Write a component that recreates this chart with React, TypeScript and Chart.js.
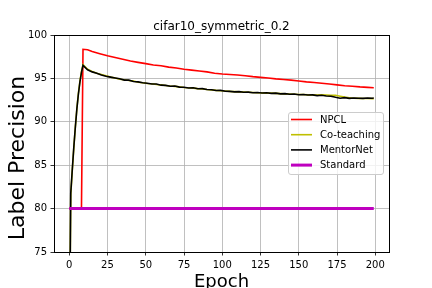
import React, { useEffect, useRef } from "react";
import { Chart, registerables } from "chart.js";

Chart.register(...registerables);

const TITLE = "cifar10_symmetric_0.2";
const X_LABEL = "Epoch";
const Y_LABEL = "Label Precision";
const X_TICKS = [0, 25, 50, 75, 100, 125, 150, 175, 200];
const Y_TICKS = [75, 80, 85, 90, 95, 100];

const NPCL_EPOCHS = [0, 8, 9, 12, 15, 20, 25, 30, 35, 40, 45, 50, 55, 60, 65, 70, 75, 80, 85, 90, 95, 100, 105, 110, 115, 120, 125, 130, 135, 140, 145, 150, 155, 160, 165, 170, 175, 180, 185, 190, 195, 199];
const NPCL_VALUES = [80, 80, 98.35, 98.3, 98.1, 97.85, 97.6, 97.4, 97.2, 97.0, 96.85, 96.7, 96.55, 96.45, 96.3, 96.2, 96.05, 95.95, 95.85, 95.75, 95.6, 95.5, 95.45, 95.4, 95.3, 95.2, 95.12, 95.05, 94.95, 94.87, 94.8, 94.7, 94.6, 94.52, 94.45, 94.35, 94.25, 94.15, 94.1, 94.02, 93.97, 93.93];

const BASE_EPOCHS = [0, 1, 2, 3, 4, 5, 6, 7, 8, 9, 12, 15, 18, 21, 24, 27, 30, 33, 36, 39, 42, 45, 48, 51, 54, 57, 60, 63, 66, 69, 72, 75, 78, 81, 84, 87, 90, 93, 96, 99, 102, 105, 108, 111, 114, 117, 120, 123, 126, 129, 132, 135, 138, 141, 144, 147, 150, 153, 156, 159, 162, 165, 168, 171, 174, 177, 180, 183, 186, 189, 192, 195, 198, 199];

const COTEACHING_VALUES = [60, 81.6, 84.4, 87.0, 89.4, 91.5, 93.3, 94.7, 95.8, 96.6, 96.05, 95.8, 95.6, 95.45, 95.3, 95.15, 95.05, 94.9, 94.85, 94.75, 94.7, 94.55, 94.5, 94.42, 94.38, 94.3, 94.25, 94.18, 94.12, 94.08, 94.02, 93.95, 93.92, 93.88, 93.82, 93.78, 93.72, 93.68, 93.62, 93.58, 93.55, 93.5, 93.48, 93.45, 93.42, 93.4, 93.38, 93.35, 93.33, 93.3, 93.3, 93.27, 93.25, 93.22, 93.2, 93.18, 93.15, 93.15, 93.1, 93.1, 93.08, 93.1, 93.08, 93.05, 93.05, 92.95, 92.85, 92.78, 92.72, 92.7, 92.68, 92.68, 92.67, 92.67];

const MENTORNET_VALUES = [60, 81.8, 84.5, 87.1, 89.4, 91.5, 93.2, 94.6, 95.7, 96.5, 96.0, 95.75, 95.6, 95.4, 95.25, 95.15, 95.05, 94.95, 94.8, 94.8, 94.65, 94.6, 94.5, 94.45, 94.35, 94.35, 94.22, 94.2, 94.1, 94.12, 94.0, 93.98, 93.9, 93.92, 93.8, 93.82, 93.72, 93.7, 93.6, 93.62, 93.52, 93.5, 93.45, 93.48, 93.4, 93.42, 93.35, 93.38, 93.32, 93.35, 93.28, 93.3, 93.22, 93.25, 93.18, 93.2, 93.12, 93.15, 93.08, 93.1, 93.02, 93.05, 92.98, 92.95, 92.82, 92.72, 92.78, 92.7, 92.75, 92.72, 92.7, 92.75, 92.72, 92.74];

const STANDARD_EPOCHS = [0, 50, 100, 150, 199];
const STANDARD_VALUES = [80, 80, 80, 80, 80];

const FONT = "'DejaVu Sans', sans-serif";

const pts = (xs: number[], ys: number[]) => xs.map((x, i) => ({ x, y: ys[i] }));

const series = [
  { label: "NPCL", color: "#ff0000", width: 1.6, data: pts(NPCL_EPOCHS, NPCL_VALUES), order: 4 },
  { label: "Co-teaching", color: "#bfbf00", width: 1.6, data: pts(BASE_EPOCHS, COTEACHING_VALUES), order: 3 },
  { label: "MentorNet", color: "#000000", width: 1.6, data: pts(BASE_EPOCHS, MENTORNET_VALUES), order: 2 },
  { label: "Standard", color: "#bf00bf", width: 3, data: pts(STANDARD_EPOCHS, STANDARD_VALUES), order: 1 },
];

const decorPlugin = {
  id: "decor",
  afterDatasetsDraw(chart: any) {
    const ctx = chart.ctx;
    const a = chart.chartArea;
    ctx.save();
    ctx.strokeStyle = "#000";
    ctx.lineWidth = 1;
    ctx.strokeRect(a.left + 0.5, a.top + 0.5, a.right - a.left, a.bottom - a.top);
    ctx.restore();
  },
  afterDraw(chart: any) {
    const ctx = chart.ctx;
    const a = chart.chartArea;
    const cx = (a.left + a.right) / 2;
    ctx.save();
    ctx.fillStyle = "#000";
    ctx.textAlign = "center";
    ctx.textBaseline = "alphabetic";
    ctx.font = `12px ${FONT}`;
    ctx.fillText(TITLE, cx, 29.5);
    ctx.font = `18px ${FONT}`;
    ctx.fillText(X_LABEL, cx, 287);
    ctx.save();
    ctx.translate(24, 158);
    ctx.rotate(-Math.PI / 2);
    ctx.font = `22px ${FONT}`;
    ctx.fillText(Y_LABEL, 0, 0);
    ctx.restore();

    // legend
    const lx = 288.5, ly = 112.5, lw = 95, lh = 62, r = 2.5;
    ctx.beginPath();
    ctx.moveTo(lx + r, ly);
    ctx.lineTo(lx + lw - r, ly);
    ctx.quadraticCurveTo(lx + lw, ly, lx + lw, ly + r);
    ctx.lineTo(lx + lw, ly + lh - r);
    ctx.quadraticCurveTo(lx + lw, ly + lh, lx + lw - r, ly + lh);
    ctx.lineTo(lx + r, ly + lh);
    ctx.quadraticCurveTo(lx, ly + lh, lx, ly + lh - r);
    ctx.lineTo(lx, ly + r);
    ctx.quadraticCurveTo(lx, ly, lx + r, ly);
    ctx.closePath();
    ctx.fillStyle = "rgba(255,255,255,0.8)";
    ctx.fill();
    ctx.strokeStyle = "#cccccc";
    ctx.lineWidth = 1;
    ctx.stroke();
    ctx.font = `10px ${FONT}`;
    ctx.textAlign = "left";
    ctx.textBaseline = "middle";
    chart.data.datasets.forEach((ds: any, i: number) => {
      const y = 119.5 + i * 15.2;
      ctx.beginPath();
      ctx.strokeStyle = ds.borderColor;
      ctx.lineWidth = ds.borderWidth;
      ctx.moveTo(291, y);
      ctx.lineTo(312, y);
      ctx.stroke();
      ctx.fillStyle = "#000";
      ctx.fillText(ds.label, 320, y + 0.5);
    });
    ctx.restore();
  },
};

export default function App() {
  const ref = useRef<HTMLCanvasElement | null>(null);
  useEffect(() => {
    if (!ref.current) return;
    const chart = new Chart(ref.current, {
      type: "line",
      data: {
        datasets: series.map((s) => ({
          label: s.label,
          data: s.data,
          borderColor: s.color,
          backgroundColor: s.color,
          borderWidth: s.width,
          pointRadius: 0,
          tension: 0,
          fill: false,
          order: s.order,
        })),
      },
      options: {
        animation: false,
        responsive: false,
        devicePixelRatio: 1,
        layout: { padding: { left: 0, top: 35, right: 43, bottom: 0 } },
        plugins: { legend: { display: false }, title: { display: false }, tooltip: { enabled: false } },
        scales: {
          x: {
            type: "linear",
            min: -9.95,
            max: 208.95,
            afterBuildTicks: (scale: any) => {
              scale.ticks = X_TICKS.map((v) => ({ value: v }));
            },
            afterFit: (scale: any) => {
              scale.height = 36;
            },
            grid: { color: "#b0b0b0", lineWidth: 0.8, tickColor: "#000", tickLength: 3.5, tickWidth: 0.8 },
            border: { display: false },
            ticks: { color: "#000", font: { family: FONT, size: 10 }, padding: 3.5, maxRotation: 0, autoSkip: false },
          },
          y: {
            type: "linear",
            min: 75,
            max: 100,
            afterBuildTicks: (scale: any) => {
              scale.ticks = Y_TICKS.map((v) => ({ value: v }));
            },
            afterFit: (scale: any) => {
              scale.width = 54;
            },
            grid: { color: "#b0b0b0", lineWidth: 0.8, tickColor: "#000", tickLength: 3.5, tickWidth: 0.8 },
            border: { display: false },
            ticks: { color: "#000", font: { family: FONT, size: 10 }, padding: 3.5, autoSkip: false },
          },
        },
      },
      plugins: [decorPlugin],
    });
    return () => chart.destroy();
  }, []);
  return (
    <div style={{ position: "fixed", left: 0, top: 0, width: 432, height: 288, background: "#fff" }}>
      <canvas ref={ref} width={432} height={288} style={{ display: "block" }} />
    </div>
  );
}
